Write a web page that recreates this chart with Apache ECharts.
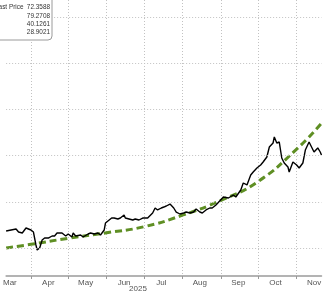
<!DOCTYPE html>
<html><head><meta charset="utf-8">
<script src="https://cdn.jsdelivr.net/npm/echarts@6/dist/echarts.min.js"></script>
<style>html,body{margin:0;padding:0;background:#fff}#c{width:324px;height:292px}</style>
</head><body><div id="c"></div>
<script>
// x categories: every calendar day shown
const startDay = '2025-03-12', endDay = '2025-11-21';
const monthNames = ['Jan','Feb','Mar','Apr','May','Jun','Jul','Aug','Sep','Oct','Nov','Dec'];
const yearLabel = '2025';
const gridValues = [50, 60, 70, 80, 90, 100];

const priceSeries = [
['2025-03-12',53.68],['2025-03-16',53.90],['2025-03-20',54.11],['2025-03-22',53.46],['2025-03-25',53.25],
['2025-03-28',54.33],['2025-03-29',54.11],['2025-04-01',53.90],['2025-04-03',53.46],['2025-04-05',50.65],
['2025-04-06',49.57],['2025-04-07',50.00],['2025-04-08',50.00],['2025-04-10',51.73],['2025-04-12',52.16],
['2025-04-15',52.16],['2025-04-18',52.60],['2025-04-20',52.60],['2025-04-22',53.25],['2025-04-23',53.46],
['2025-04-26',53.25],['2025-04-29',52.60],['2025-05-01',53.03],['2025-05-04',52.38],['2025-05-05',53.25],
['2025-05-07',52.60],['2025-05-11',52.81],['2025-05-13',52.38],['2025-05-17',53.03],['2025-05-19',53.25],
['2025-05-22',53.03],['2025-05-25',53.25],['2025-05-27',52.81],['2025-05-30',53.90],['2025-05-31',55.41],
['2025-06-03',56.06],['2025-06-05',56.49],['2025-06-07',56.49],['2025-06-10',56.28],['2025-06-12',56.49],
['2025-06-15',57.14],['2025-06-16',56.49],['2025-06-19',56.28],['2025-06-22',56.06],['2025-06-24',56.28],
['2025-06-27',56.06],['2025-06-30',56.49],['2025-07-02',56.49],['2025-07-04',56.49],['2025-07-08',57.58],
['2025-07-10',58.66],['2025-07-12',58.23],['2025-07-15',58.66],['2025-07-17',58.87],['2025-07-19',59.09],
['2025-07-22',59.52],['2025-07-25',58.66],['2025-07-27',57.79],['2025-07-30',57.36],['2025-08-02',57.58],
['2025-08-04',57.79],['2025-08-07',57.58],['2025-08-10',57.79],['2025-08-12',58.44],['2025-08-15',57.79],
['2025-08-17',57.58],['2025-08-20',58.23],['2025-08-23',58.66],['2025-08-25',58.66],['2025-08-28',59.31],
['2025-08-29',59.74],['2025-09-03',61.04],['2025-09-07',60.82],['2025-09-11',61.47],['2025-09-13',61.04],
['2025-09-17',62.55],['2025-09-19',64.07],['2025-09-22',63.64],['2025-09-25',65.80],['2025-09-27',66.45],
['2025-09-30',67.32],['2025-10-03',67.97],['2025-10-05',68.61],['2025-10-08',69.70],['2025-10-10',71.86],
['2025-10-13',72.73],['2025-10-14',74.03],['2025-10-16',72.73],['2025-10-18',72.94],['2025-10-19',71.21],
['2025-10-20',69.48],['2025-10-22',68.40],['2025-10-25',67.53],['2025-10-26',66.45],['2025-10-29',68.61],
['2025-11-01',67.97],['2025-11-03',67.32],['2025-11-06',68.40],['2025-11-08',71.21],['2025-11-11',72.94],
['2025-11-13',71.86],['2025-11-15',70.78],['2025-11-18',71.65],['2025-11-20',70.78],['2025-11-21',70.13]
];

const trendSeries = [
['2025-03-12',50.0],['2025-04-01',50.8],['2025-05-01',52.1],['2025-06-01',53.3],['2025-07-01',54.6],
['2025-08-01',57.1],['2025-09-01',60.3],['2025-10-01',64.4],['2025-11-01',71.4],['2025-11-21',77.0]
];

const legendNames = ['Last Price'];
const legendValues = ['72.3588', '79.2708', '40.1261', '28.9021'];

function fmt(d){ return d.toISOString().slice(0,10); }
const categories = [];
for (let t = Date.parse(startDay+'T00:00:00Z'); t <= Date.parse(endDay+'T00:00:00Z'); t += 86400000) {
  categories.push(fmt(new Date(t)));
}

const chart = echarts.init(document.getElementById('c'), null, {renderer:'canvas'});
const dotted = {color:'#c2c2c2', width:1, type:[1,2]};
const legFont = '8px "Liberation Sans", Arial, sans-serif';
const legendGraphics = [
  {type:'rect', shape:{x:-10, y:-10, width:62, height:50, r:4},
   style:{fill:'#fff', stroke:'#9a9a9a', lineWidth:1}, z:100}
];
legendValues.forEach((v,i)=>{
  legendGraphics.push({type:'text', x:50, y:7+i*8.3, z:101, scaleX:0.8,
    style:{text:v, fill:'#333', font:legFont, textAlign:'right', textVerticalAlign:'middle'}});
});
legendGraphics.push({type:'text', x:23.5, y:7, z:101, scaleX:0.8,
  style:{text:legendNames[0], fill:'#333', font:legFont, textAlign:'right', textVerticalAlign:'middle'}});
legendGraphics.push({type:'text', x:138, y:289, z:101,
  style:{text:yearLabel, fill:'#555', font:'8px "Liberation Sans", Arial, sans-serif', textAlign:'center', textVerticalAlign:'middle'}});

chart.setOption({
  animation:false,
  backgroundColor:'#fff',
  grid:{left:0, right:0, top:0, bottom:16, containLabel:false},
  xAxis:{
    type:'category', data:categories, boundaryGap:false,
    axisLine:{lineStyle:{color:'#9a9a9a', width:1.5}},
    axisTick:{show:true, length:3, interval:(i,v)=>v.endsWith('-01'), lineStyle:{color:'#9a9a9a'}},
    splitLine:{show:true, interval:(i,v)=>v.endsWith('-01'), lineStyle:dotted},
    axisLabel:{interval:(i,v)=>v.endsWith('-15'), formatter:v=>monthNames[+v.slice(5,7)-1],
      color:'#555', fontSize:8, margin:3, fontFamily:'"Liberation Sans", Arial, sans-serif'}
  },
  yAxis:{
    type:'value', min:43.94, max:103.68,
    axisLine:{show:false}, axisTick:{show:false}, axisLabel:{show:false}, splitLine:{show:false}
  },
  series:[
    {type:'line', name:'Trend', data:trendSeries, smooth:true, symbol:'none', z:2,
     lineStyle:{color:'#5f8f24', width:3, type:[7,4]},
     markLine:{silent:true, symbol:'none', label:{show:false}, lineStyle:dotted,
       data:gridValues.map(v=>({yAxis:v}))}},
    {type:'line', name:'Last Price', data:priceSeries, symbol:'none', z:3,
     lineStyle:{color:'#000', width:1.4}}
  ],
  graphic:legendGraphics
});
</script></body></html>
